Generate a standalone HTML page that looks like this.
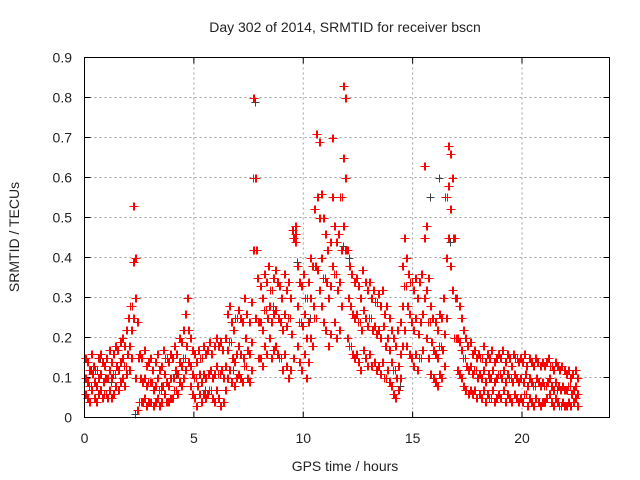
<!DOCTYPE html>
<html><head><meta charset="utf-8"><style>
body{margin:0;background:#fff;}
svg{display:block;font-family:"Liberation Sans",sans-serif;}
</style></head><body>
<svg id="chart" width="640" height="480">
<text x="345" y="32" text-anchor="middle" font-size="14" fill="#222">Day 302 of 2014, SRMTID for receiver bscn</text>
<text transform="translate(19,237) rotate(-90)" text-anchor="middle" font-size="14" fill="#222">SRMTID / TECUs</text>
<text x="345" y="471" text-anchor="middle" font-size="14" fill="#222">GPS time / hours</text>
<g id="grid"></g>
<g id="ticks"></g>
<g id="black" shape-rendering="crispEdges"></g>
<g id="red" shape-rendering="crispEdges"></g>
<rect x="84.5" y="57.5" width="525" height="360" fill="none" stroke="#000" stroke-width="1"/>
</svg>
<script>
const xTicks=[0,5,10,15,20];
const yTicks=[0,0.1,0.2,0.3,0.4,0.5,0.6,0.7,0.8,0.9];
const yTickLabels=["0","0.1","0.2","0.3","0.4","0.5","0.6","0.7","0.8","0.9"];
const tStart=0, tStep=0.1;
const hiVals=[.15,.14,.12,.16,.13,.12,.15,.16,.14,.13,
.15,.17,.14,.16,.18,.17,.19,.20,.18,.22,
.25,.28,.53,.40,.24,.16,.15,.17,.13,.14,
.15,.12,.14,.16,.12,.13,.17,.15,.14,.16,
.15,.18,.16,.20,.19,.22,.26,.30,.20,.17,
.16,.14,.17,.15,.18,.16,.17,.19,.16,.18,
.20,.18,.19,.17,.20,.26,.28,.24,.22,.25,
.27,.25,.24,.30,.26,.24,.29,.80,.60,.35,
.33,.30,.36,.34,.38,.32,.35,.37,.34,.33,
.30,.36,.32,.34,.30,.47,.48,.38,.34,.33,
.36,.30,.34,.40,.38,.52,.71,.69,.56,.50,
.46,.42,.44,.70,.48,.44,.46,.55,.83,.80,
.42,.38,.36,.34,.35,.33,.30,.37,.34,.32,
.34,.30,.32,.29,.31,.28,.32,.26,.28,.25,
.22,.20,.18,.22,.24,.38,.45,.40,.36,.34,
.32,.35,.30,.34,.36,.63,.48,.35,.28,.25,
.24,.22,.26,.25,.30,.55,.68,.66,.60,.45,
.30,.28,.25,.22,.20,.18,.19,.16,.17,.15,
.16,.15,.18,.14,.16,.15,.17,.14,.15,.16,
.15,.17,.14,.16,.15,.13,.16,.15,.14,.15,
.14,.16,.13,.15,.14,.13,.15,.14,.13,.14,
.13,.14,.15,.13,.12,.14,.13,.12,.13,.12,
.11,.12,.10,.11,.12,.10];
const midVals=[.10,.09,.08,.11,.09,.08,.10,.11,.09,.10,
.10,.12,.10,.11,.13,.12,.14,.15,.13,.16,
.18,.22,.39,.30,.15,.10,.09,.10,.08,.09,
.09,.07,.08,.10,.07,.08,.11,.09,.08,.10,
.10,.12,.11,.14,.13,.15,.18,.22,.13,.11,
.10,.08,.11,.09,.11,.10,.11,.12,.10,.11,
.13,.11,.12,.10,.13,.17,.19,.15,.14,.16,
.18,.16,.15,.20,.17,.16,.19,.60,.42,.24,
.24,.22,.27,.25,.28,.24,.26,.27,.25,.24,
.22,.26,.23,.25,.21,.45,.46,.28,.24,.23,
.26,.20,.24,.30,.28,.38,.55,.50,.40,.35,
.34,.30,.33,.55,.36,.32,.34,.42,.65,.60,
.30,.28,.26,.25,.26,.24,.22,.27,.25,.23,
.25,.22,.23,.21,.22,.20,.23,.18,.20,.17,
.14,.12,.10,.13,.16,.28,.33,.28,.26,.24,
.22,.25,.21,.24,.26,.45,.32,.24,.19,.17,
.16,.15,.18,.17,.21,.40,.58,.52,.45,.30,
.20,.19,.17,.15,.13,.12,.13,.11,.12,.10,
.11,.10,.12,.09,.11,.10,.12,.09,.10,.11,
.10,.12,.09,.11,.10,.09,.11,.10,.09,.10,
.09,.11,.08,.10,.09,.08,.10,.09,.08,.09,
.08,.09,.10,.08,.07,.09,.08,.07,.08,.07,
.07,.08,.06,.07,.08,.06];
const loVals=[.06,.05,.04,.07,.05,.04,.06,.07,.05,.06,
.05,.07,.05,.06,.08,.07,.09,.10,.08,.11,
.12,.15,.25,.10,.02,.04,.04,.05,.03,.04,
.04,.03,.04,.05,.03,.04,.06,.04,.04,.05,
.05,.07,.06,.09,.08,.10,.12,.14,.08,.06,
.05,.03,.06,.04,.06,.05,.06,.07,.05,.04,
.07,.05,.03,.04,.07,.10,.12,.09,.08,.10,
.11,.10,.09,.13,.10,.09,.12,.42,.25,.15,
.15,.13,.18,.16,.20,.15,.17,.18,.16,.15,
.12,.16,.13,.10,.12,.15,.44,.18,.14,.12,
.16,.10,.14,.20,.18,.25,.37,.32,.28,.24,
.22,.18,.21,.38,.24,.20,.22,.28,.48,.42,
.20,.18,.16,.15,.16,.14,.12,.17,.15,.13,
.16,.13,.14,.12,.13,.11,.14,.10,.12,.09,
.08,.06,.05,.07,.10,.18,.22,.18,.16,.15,
.13,.16,.12,.15,.17,.30,.20,.15,.11,.10,
.09,.08,.11,.10,.13,.25,.45,.38,.32,.20,
.12,.11,.10,.08,.07,.06,.07,.06,.07,.05,
.06,.05,.07,.04,.06,.05,.07,.04,.05,.06,
.05,.07,.04,.06,.05,.04,.06,.05,.04,.05,
.04,.06,.03,.05,.04,.03,.05,.04,.03,.04,
.04,.05,.06,.04,.03,.05,.04,.03,.04,.03,
.03,.04,.03,.04,.05,.03];
const blackT=[0.3,0.7,1.2,2.3,3.5,4.2,5.5,6.8,7.8,8.6,9.7,10.3,11.8,12.1,13.2,14.4,15.8,16.2,16.7,18.5,20.4,21.6];
const blackV=[0.12,0.15,0.09,0.01,0.08,0.11,0.07,0.12,0.79,0.28,0.39,0.25,0.43,0.40,0.22,0.08,0.55,0.60,0.44,0.10,0.04,0.07];

const X0=84.5,X1=609.5,Y0=417.5,Y1=57.5;
const xs=t=>X0+(t-0)/24*(X1-X0);
const ys=v=>Y0-(v-0)/0.9*(Y0-Y1);
const NS="http://www.w3.org/2000/svg";
const grid=document.getElementById('grid'),ticks=document.getElementById('ticks');
function mk(tag,parent){const e=document.createElementNS(NS,tag);parent.appendChild(e);return e;}
xTicks.forEach(t=>{
 const x=xs(t);
 if(t>0){const g=mk('line',grid);g.setAttribute('x1',x);g.setAttribute('x2',x);g.setAttribute('y1',Y1);g.setAttribute('y2',Y0);g.setAttribute('stroke','#a0a0a0');g.setAttribute('stroke-dasharray','2,3');
 
 }
 const a=mk('line',ticks);a.setAttribute('x1',x);a.setAttribute('x2',x);a.setAttribute('y1',Y0);a.setAttribute('y2',Y0-6);a.setAttribute('stroke','#000');
 
 
 const b=mk('line',ticks);b.setAttribute('x1',x);b.setAttribute('x2',x);b.setAttribute('y1',Y1);b.setAttribute('y2',Y1+6);b.setAttribute('stroke','#000');
 
 
 const l=mk('text',ticks);l.setAttribute('x',x);l.setAttribute('y',443);l.setAttribute('text-anchor','middle');l.setAttribute('font-size','14');l.setAttribute('fill','#222');l.textContent=String(t);
 
 
});
yTicks.forEach((v,i)=>{
 const y=ys(v);
 if(v>0&&v<0.9){const g=mk('line',grid);g.setAttribute('x1',X0);g.setAttribute('x2',X1);g.setAttribute('y1',y);g.setAttribute('y2',y);g.setAttribute('stroke','#a0a0a0');g.setAttribute('stroke-dasharray','2,3');
 
 }
 const a=mk('line',ticks);a.setAttribute('x1',X0);a.setAttribute('x2',X0+6);a.setAttribute('y1',y);a.setAttribute('y2',y);a.setAttribute('stroke','#000');
 
 
 const b=mk('line',ticks);b.setAttribute('x1',X1);b.setAttribute('x2',X1-6);b.setAttribute('y1',y);b.setAttribute('y2',y);b.setAttribute('stroke','#000');
 
 
 const l=mk('text',ticks);l.setAttribute('x',72);l.setAttribute('y',y+5);l.setAttribute('text-anchor','end');l.setAttribute('font-size','14');l.setAttribute('fill','#222');l.textContent=yTickLabels[i];
 
 
});
function plus(parent,t,v,color,name){
 const x=Math.round(xs(t))+0.5,y=Math.round(ys(v))+0.5;
 const p=mk('path',parent);
 p.setAttribute('d',`M${x-4},${y}H${x+4}M${x},${y-4}V${y+4}`);
 p.setAttribute('stroke',color);
 p.setAttribute('stroke-width','1');
 p.setAttribute('fill','none');
 
 
}
const bk=document.getElementById('black'),rd=document.getElementById('red');
blackT.forEach((t,i)=>plus(bk,t,blackV[i],'#404040','black-point'));
const offsets=[0,0.05];
offsets.forEach(o=>{
 hiVals.forEach((v,i)=>plus(rd,tStart+i*tStep+o,v,'#ff0000','red-point'));
 midVals.forEach((v,i)=>plus(rd,tStart+i*tStep+o+0.025,v,'#ff0000','red-point'));
 loVals.forEach((v,i)=>plus(rd,tStart+i*tStep+o+0.012,v,'#ff0000','red-point'));
});
</script>
</body></html>
